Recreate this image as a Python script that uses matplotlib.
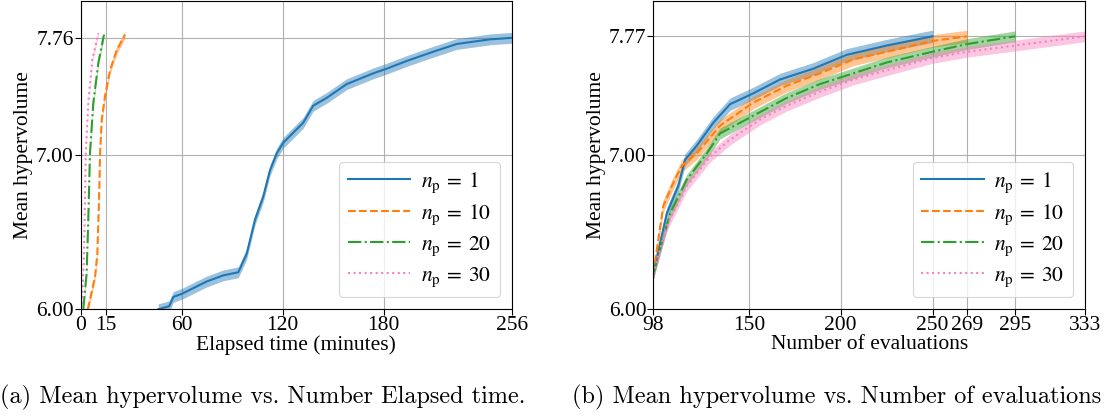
import matplotlib
matplotlib.use("Agg")
import matplotlib.pyplot as plt
import numpy as np

# ---------------- data ----------------
# Panel (a): mean hypervolume vs elapsed time (minutes)
time_np1 = [46, 52.6, 55, 60, 74.8, 84.7, 93.6, 98.6, 103.5, 108.4, 112.4, 116.4, 120.3,
            132.2, 138.1, 146, 158, 173.8, 181.7, 193.6, 209.4, 223.3, 243, 256]
hv_np1_t = [6.0, 6.02, 6.08, 6.10, 6.18, 6.22, 6.24, 6.36, 6.58, 6.73, 6.90, 7.01, 7.08,
            7.21, 7.32, 7.37, 7.46, 7.53, 7.56, 7.61, 7.67, 7.72, 7.75, 7.76]
time_np10 = [4.2, 8.5, 9.9, 11.1, 11.5, 12.5, 14.4, 17.4, 21.4, 26.3]
hv_np10_t = [6.0, 6.21, 6.36, 6.80, 7.01, 7.23, 7.38, 7.55, 7.68, 7.78]
time_np20 = [1.5, 3.5, 4.5, 5.5, 7.5, 10.5, 13.8]
hv_np20_t = [6.0, 6.23, 6.58, 7.01, 7.34, 7.60, 7.78]
time_np30 = [0.6, 2.0, 3.0, 4.5, 6.9, 10.5]
hv_np30_t = [6.0, 6.36, 7.01, 7.34, 7.62, 7.79]

# Panel (b): mean hypervolume vs number of evaluations
ev_np1 = [98, 105.3, 111.6, 115.3, 121.6, 130.7, 139.8, 152.4, 167, 185.1, 203.3, 225, 250]
hv_np1_e = [6.23, 6.62, 6.80, 6.97, 7.06, 7.21, 7.33, 7.40, 7.49, 7.56, 7.65, 7.71, 7.77]
ev_np10 = [98, 103.4, 108.9, 113.5, 121.6, 134.3, 152.4, 170.6, 188.7, 206.9, 225, 250, 269]
hv_np10_e = [6.23, 6.67, 6.82, 6.93, 7.01, 7.19, 7.34, 7.45, 7.53, 7.62, 7.67, 7.74, 7.77]
ev_np20 = [98, 107.1, 116.2, 127.1, 134.3, 157.9, 170.6, 188.7, 206.9, 225, 250, 269, 295]
hv_np20_e = [6.23, 6.62, 6.84, 7.01, 7.14, 7.29, 7.37, 7.46, 7.53, 7.60, 7.67, 7.72, 7.77]
ev_np30 = [98, 105.3, 116.2, 128.9, 139.8, 156.1, 170.6, 188.7, 206.9, 225, 250, 269, 295, 333]
hv_np30_e = [6.23, 6.54, 6.80, 6.99, 7.10, 7.23, 7.32, 7.41, 7.49, 7.55, 7.63, 7.67, 7.71, 7.77]

# half-width of shaded band (std) per series
band_t = [0.035, 0.025, 0.02, 0.015]
band_e = [0.04, 0.04, 0.035, 0.035]

labels = [r"$n_\mathrm{p}\:=\:1$", r"$n_\mathrm{p}\:=\:10$", r"$n_\mathrm{p}\:=\:20$", r"$n_\mathrm{p}\:=\:30$"]
colors = ["#1f77b4", "#ff7f0e", "#2ca02c", "#f781bf"]
styles = ["-", "--", "-.", ":"]

xticks_a = [0, 15, 60, 120, 180, 256]
xticks_b = [98, 150, 200, 250, 269, 295, 333]
yticks_a = [6.00, 7.00, 7.76]
yticks_b = [6.00, 7.00, 7.77]

# ---------------- style ----------------
plt.rcParams["font.family"] = ["Liberation Serif", "DejaVu Serif"]
plt.rcParams["mathtext.fontset"] = "stix"
FS = 15.5

fig = plt.figure(figsize=(11.09, 4.16), dpi=100)
W, H = 1109, 416
axA = fig.add_axes([80.7 / W, 1 - 309.3 / H, (511.7 - 80.7) / W, 309.3 / H - 0.002])
axB = fig.add_axes([653.3 / W, 1 - 309.3 / H, (1085 - 653.3) / W, 309.3 / H - 0.002])


def draw(ax, xs, ys, bands):
    for x, y, b, c, s, l in zip(xs, ys, bands, colors, styles, labels):
        x = np.asarray(x, float)
        y = np.asarray(y, float)
        ax.fill_between(x, y - b, y + b, color=c, alpha=0.45, lw=0)
        ax.plot(x, y, color=c, ls=s, lw=1.5, label=l)
    ax.grid(True, color="#b0b0b0", lw=0.8)
    ax.set_axisbelow(True)
    ax.set_ylim(6.0, 8.0)
    ax.set_ylabel("Mean hypervolume", fontsize=FS, labelpad=2)
    ax.tick_params(labelsize=FS, length=4, pad=1)
    leg = ax.legend(loc="lower right", fontsize=FS, handlelength=2.9,
                    borderaxespad=0.55, labelspacing=0.35, framealpha=0.8,
                    handletextpad=0.5)
    leg.get_frame().set_linewidth(0.8)


draw(axA, [time_np1, time_np10, time_np20, time_np30],
     [hv_np1_t, hv_np10_t, hv_np20_t, hv_np30_t], band_t)
axA.set_xlim(0, 256)
axA.set_xticks(xticks_a)
axA.set_yticks(yticks_a)
axA.set_yticklabels([f"{v:.2f}" for v in yticks_a])
axA.set_xlabel("Elapsed time (minutes)", fontsize=FS, labelpad=0)

draw(axB, [ev_np1, ev_np10, ev_np20, ev_np30],
     [hv_np1_e, hv_np10_e, hv_np20_e, hv_np30_e], band_e)
axB.set_xlim(98, 333)
axB.set_xticks(xticks_b)
axB.set_yticks(yticks_b)
axB.set_yticklabels([f"{v:.2f}" for v in yticks_b])
axB.set_xlabel("Number of evaluations", fontsize=FS, labelpad=0)

fig.text(0.0, 1 - 397 / H, "(a) Mean hypervolume vs. Number Elapsed time.",
         family="cmr10", fontsize=17.5, ha="left", va="center")
fig.text(572 / W, 1 - 397 / H, "(b) Mean hypervolume vs. Number of evaluations",
         family="cmr10", fontsize=17.5, ha="left", va="center")

fig.savefig("out.png", dpi=100)
